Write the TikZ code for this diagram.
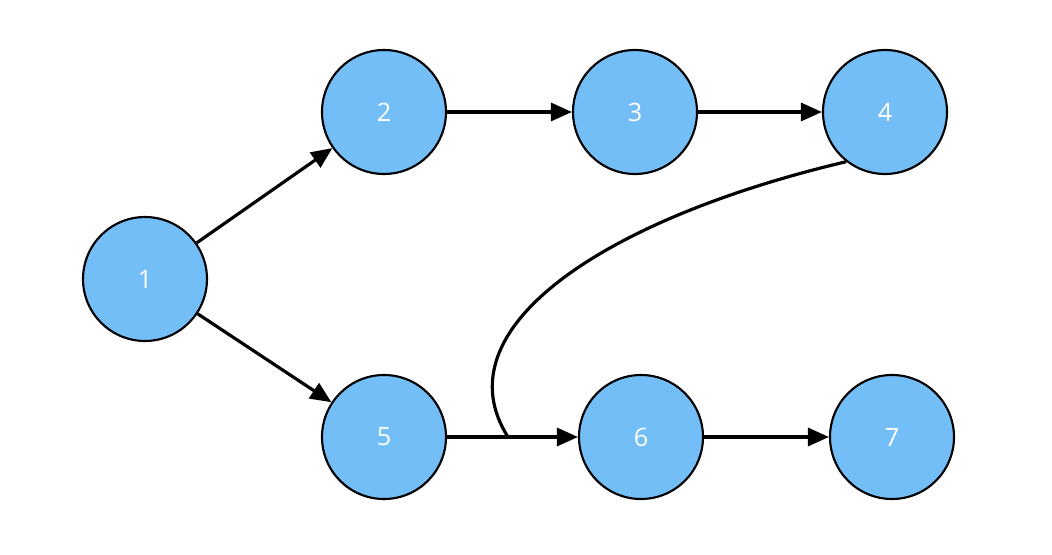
\documentclass[tikz,border=0pt]{standalone}
\usepackage{fontspec}
\setmainfont{Open Sans}
\usetikzlibrary{arrows.meta}
\definecolor{nodeblue}{RGB}{116,190,248}
\begin{document}
\begin{tikzpicture}[
    vertex/.style={circle,draw=black,line width=1.2pt,fill=nodeblue,minimum size=2.48cm,
      inner sep=0pt,text=white,font=\Large},
    edge/.style={line width=1.8pt,-{Triangle[length=0.42cm,width=0.36cm]}}]
      \useasboundingbox (0,0) rectangle (21.04,11.08);
      \node[vertex] (n1) at (2.9,5.5) {1};
      \node[vertex] (n2) at (7.68,8.84) {2};
      \node[vertex] (n3) at (12.7,8.84) {3};
      \node[vertex] (n4) at (17.7,8.84) {4};
      \node[vertex] (n5) at (7.68,2.34) {5};
      \node[vertex] (n6) at (12.82,2.34) {6};
      \node[vertex] (n7) at (17.84,2.34) {7};
      \coordinate (join) at (10.16,2.34);
      \draw[edge] (n1) -- (n2);
      \draw[edge] (n1) -- (n5);
      \draw[edge] (n2) -- (n3);
      \draw[edge] (n3) -- (n4);
      \draw[edge] (n5) -- (n6);
      \draw[edge] (n6) -- (n7);
      \draw[line width=1.8pt] (n4.232) .. controls (12.0,6.68) and (8.8,4.48) .. (join);
\end{tikzpicture}
\end{document}
